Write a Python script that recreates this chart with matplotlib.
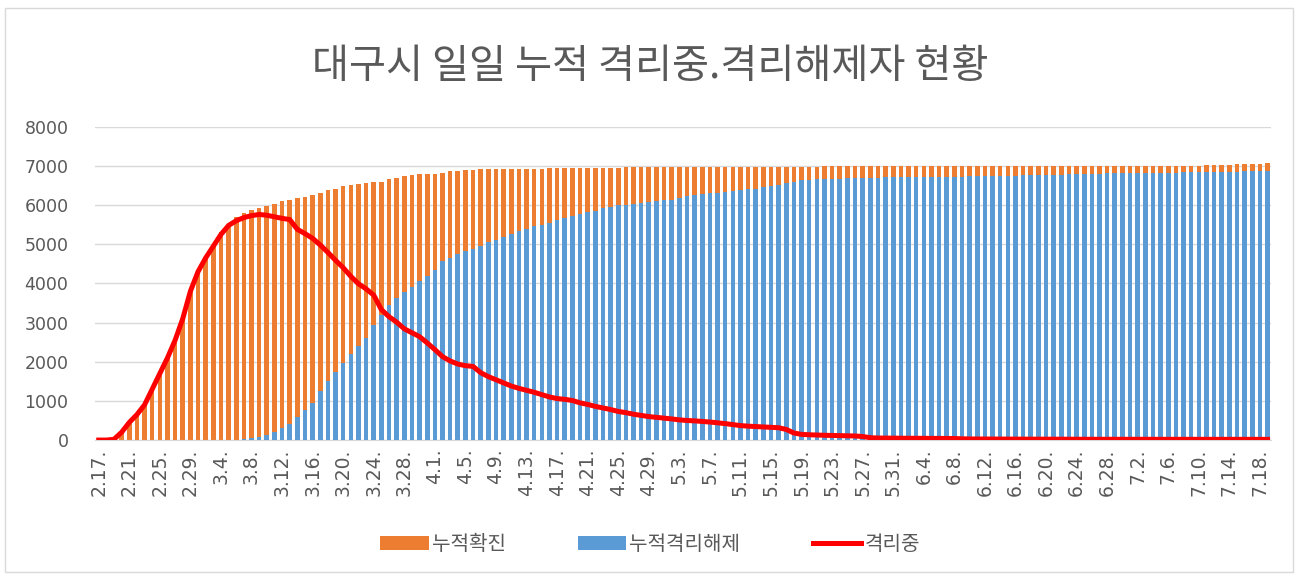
import numpy as np
import matplotlib.pyplot as plt
from matplotlib.patches import Rectangle

plt.rcParams['font.family'] = ['Noto Sans CJK KR', 'DejaVu Sans']

# Date categories 2.17. ~ 7.19.
month_days = {2: (17, 29), 3: (1, 31), 4: (1, 30), 5: (1, 31), 6: (1, 30), 7: (1, 19)}
dates = [f"{m}.{d}." for m, (a, b) in month_days.items() for d in range(a, b + 1)]

# 누적확진 (cumulative confirmed)
confirmed = [
    0, 1, 30, 210, 460, 660, 910, 1310, 1710, 2110,
    2560, 3110, 3810, 4320, 4680, 4990, 5300, 5500, 5690, 5800,
    5880, 5930, 5970, 6030, 6100, 6140, 6180, 6200, 6260, 6300,
    6380, 6420, 6480, 6520, 6540, 6560, 6580, 6600, 6660, 6700,
    6730, 6760, 6790, 6800, 6800, 6830, 6860, 6880, 6900, 6905,
    6910, 6910, 6915, 6920, 6920, 6925, 6925, 6930, 6930, 6935,
    6935, 6940, 6940, 6945, 6945, 6950, 6950, 6955, 6955, 6960,
    6960, 6960, 6965, 6965, 6965, 6970, 6970, 6970, 6972, 6972,
    6974, 6974, 6976, 6976, 6978, 6978, 6980, 6980, 6980, 6982,
    6982, 6983, 6983, 6984, 6984, 6985, 6985, 6985, 6986, 6986,
    6987, 6987, 6988, 6988, 6989, 6989, 6990, 6990, 6990, 6991,
    6991, 6992, 6992, 6993, 6993, 6994, 6994, 6995, 6995, 6996,
    6996, 6997, 6997, 6998, 6998, 6999, 7000, 7000, 7001, 7001,
    7002, 7002, 7003, 7003, 7004, 7004, 7005, 7005, 7006, 7006,
    7007, 7007, 7008, 7008, 7009, 7010, 7011, 7012, 7013, 7050,
    7055, 7058, 7060, 7062,
]

# 누적격리해제 (cumulative released)
released = [
    0, 0, 0, 0, 0, 0, 0, 0, 0, 0,
    0, 0, 0, 0, 0, 0, 0, 0, 0, 20,
    40, 90, 140, 200, 300, 420, 600, 780, 950, 1250,
    1500, 1750, 1980, 2200, 2400, 2600, 2950, 3200, 3450, 3620,
    3780, 3900, 4050, 4200, 4350, 4560, 4660, 4760, 4830, 4880,
    4950, 5050, 5110, 5190, 5270, 5330, 5400, 5460, 5500, 5550,
    5620, 5670, 5710, 5760, 5830, 5860, 5920, 5950, 5990, 6000,
    6020, 6040, 6080, 6100, 6120, 6140, 6180, 6220, 6260, 6290,
    6300, 6320, 6340, 6355, 6390, 6410, 6420, 6450, 6480, 6520,
    6560, 6600, 6640, 6650, 6660, 6660, 6670, 6670, 6680, 6680,
    6690, 6700, 6700, 6705, 6705, 6710, 6710, 6712, 6715, 6718,
    6720, 6722, 6725, 6728, 6730, 6732, 6735, 6740, 6745, 6748,
    6752, 6756, 6760, 6765, 6770, 6775, 6780, 6785, 6790, 6795,
    6800, 6805, 6808, 6810, 6812, 6815, 6818, 6820, 6822, 6825,
    6828, 6830, 6832, 6835, 6838, 6840, 6842, 6845, 6848, 6855,
    6858, 6860, 6862, 6865,
]

# 격리중 (in isolation)
isolated = [
    0, 0, 20, 200, 450, 650, 900, 1300, 1700, 2100,
    2550, 3100, 3800, 4300, 4650, 4950, 5250, 5480, 5600, 5680,
    5730, 5760, 5740, 5700, 5660, 5630, 5380, 5270, 5150, 4980,
    4790, 4590, 4400, 4180, 3990, 3860, 3700, 3330, 3150, 3010,
    2840, 2740, 2640, 2480, 2310, 2130, 2020, 1940, 1900, 1880,
    1720, 1620, 1540, 1460, 1380, 1320, 1270, 1220, 1160, 1100,
    1060, 1040, 1010, 950, 910, 860, 820, 780, 730, 700,
    660, 630, 600, 580, 560, 540, 515, 500, 490, 475,
    460, 440, 420, 395, 370, 355, 345, 335, 325, 315,
    270, 180, 145, 135, 128, 122, 118, 112, 108, 104,
    90, 60, 52, 50, 48, 48, 46, 45, 45, 44,
    43, 42, 40, 32, 28, 27, 26, 26, 25, 25,
    24, 24, 23, 23, 22, 22, 22, 21, 21, 21,
    20, 20, 20, 21, 21, 22, 22, 22, 21, 21,
    20, 20, 19, 19, 20, 20, 21, 21, 20, 20,
    19, 19, 18, 18,
]

x = np.arange(len(dates))
grey = '#595959'

fig = plt.figure(figsize=(13, 5.76), dpi=100)
ax = fig.add_axes([0.073, 0.236, 0.905, 0.544])

b1 = ax.bar(x, confirmed, width=0.6, color='#ED7D31', label='누적확진', zorder=2)
b2 = ax.bar(x, released, width=0.6, color='#5B9BD5', label='누적격리해제', zorder=3)
l1, = ax.plot(x, isolated, color='#FF0000', linewidth=3.6, label='격리중', zorder=4)

ax.set_xlim(-0.5, len(dates) - 0.5)
ax.set_ylim(0, 8000)
ax.set_yticks(range(0, 8001, 1000))
ax.set_xticks(x[::4])
ax.set_xticklabels(dates[::4], rotation=90, fontsize=13.5, color=grey, family='DejaVu Sans')
for t in ax.get_yticklabels():
    t.set_family('DejaVu Sans')
ax.tick_params(axis='y', length=0, pad=19, labelsize=12.5, labelcolor=grey)
ax.tick_params(axis='x', length=0, pad=6)
ax.yaxis.grid(True, color='#D9D9D9', linewidth=1)
ax.set_axisbelow(True)
for s in ['top', 'right', 'left']:
    ax.spines[s].set_visible(False)
ax.spines['bottom'].set_color('#D9D9D9')

fig.text(0.5, 0.885, '대구시 일일 누적 격리중.격리해제자 현황', ha='center', va='center',
         fontsize=29, color=grey, fontweight='light')

ax.legend([b1, b2, l1], ['누적확진', '누적격리해제', '격리중'],
          loc='center', bbox_to_anchor=(0.5, 0.054), bbox_transform=fig.transFigure,
          ncol=3, frameon=False, fontsize=14.5, labelcolor=grey,
          handlelength=2.4, handletextpad=0.15, columnspacing=3.6)

fig.patches.append(Rectangle((5 / 1300, 4 / 576), 1288 / 1300, 564 / 576, transform=fig.transFigure,
                             fill=False, edgecolor='#D9D9D9', linewidth=1))

fig.savefig('out.png', dpi=100)
